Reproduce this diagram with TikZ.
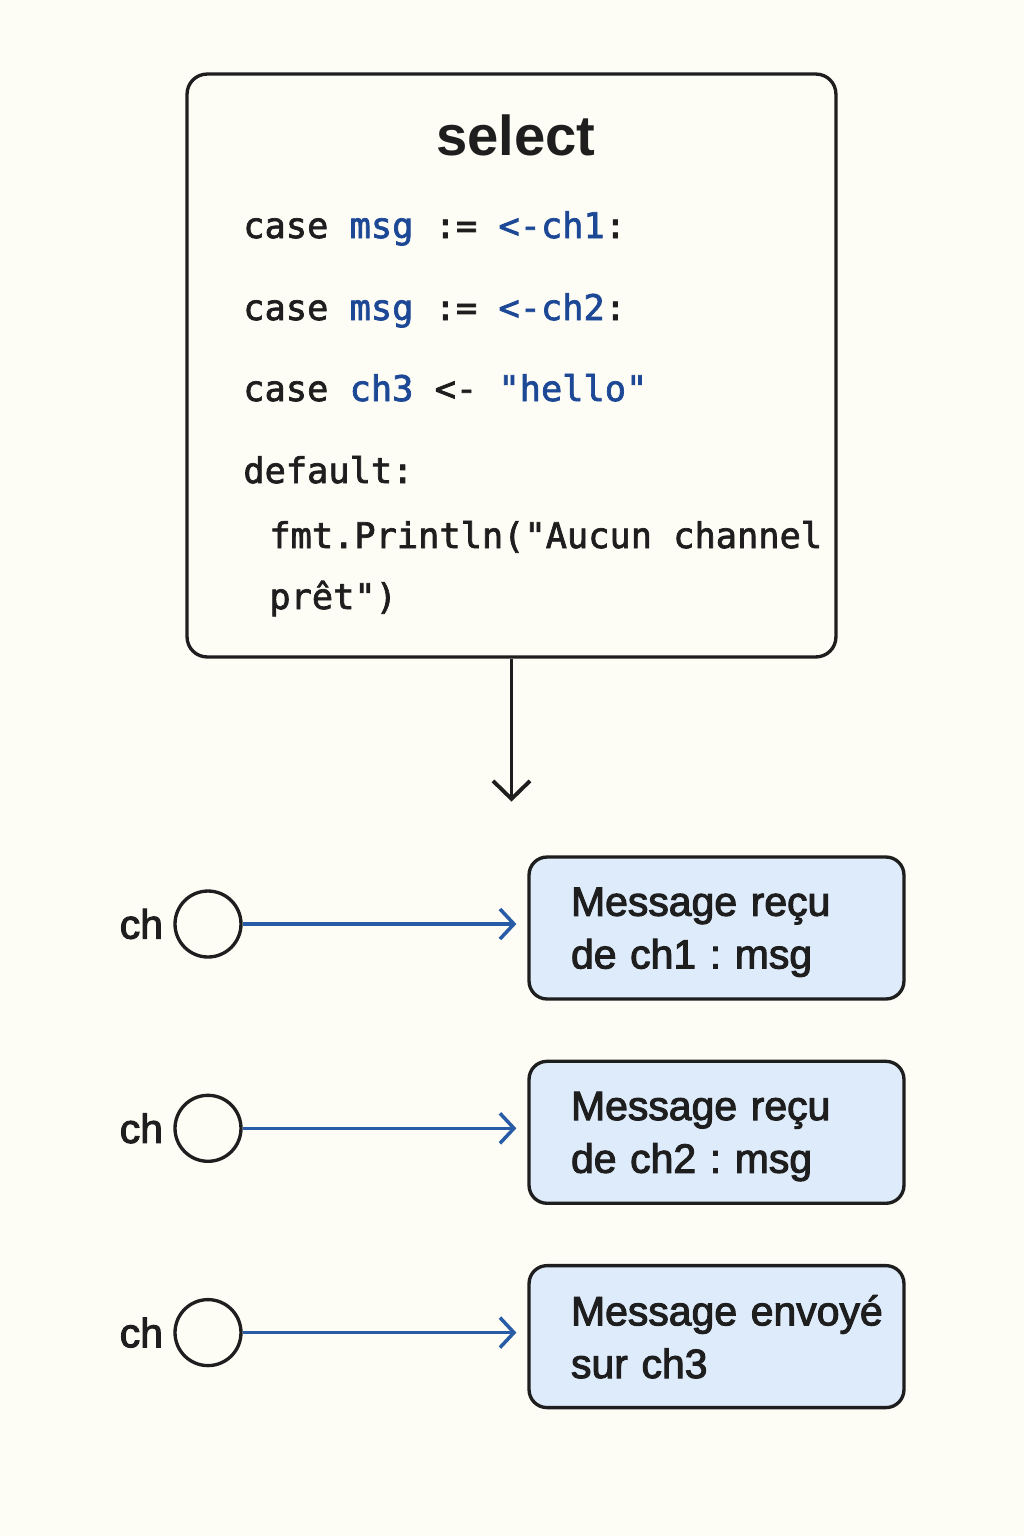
\documentclass[tikz,border=0pt]{standalone}
\usepackage{fontspec}
\setmainfont{Liberation Sans}
\newfontfamily\codefont[FakeBold=2]{DejaVu Sans Mono}
\newfontfamily\labelfont[FakeBold=2.5]{Liberation Sans}
\usetikzlibrary{arrows.meta,positioning}

\definecolor{paper}{RGB}{253,252,245}
\definecolor{ink}{RGB}{30,30,30}
\definecolor{codeblue}{RGB}{28,72,150}
\definecolor{flowblue}{RGB}{40,92,166}
\definecolor{msgfill}{RGB}{221,235,250}

\newcommand{\kw}[1]{\textcolor{codeblue}{#1}}

\begin{document}
\begin{tikzpicture}[
    x=0.02cm, y=-0.02cm,
    selbox/.style={draw=ink, line width=1.9pt, rounded corners=0.4cm, fill=paper, minimum width=12.98cm, minimum height=11.66cm},
    title/.style={font=\fontsize{32}{38}\selectfont\bfseries, text=ink, anchor=base, inner sep=0pt},
    code/.style={font=\fontsize{20.1}{25}\selectfont\codefont, text=ink, anchor=base west, inner sep=0pt},
    chan/.style={circle, draw=ink, line width=1.9pt, minimum size=1.32cm, inner sep=0pt},
    chname/.style={font=\fontsize{23.3}{27}\selectfont\labelfont, text=ink, inner sep=0pt},
    msgbox/.style={draw=ink, line width=1.9pt, rounded corners=0.36cm, fill=msgfill, minimum width=7.5cm, minimum height=2.84cm,
        text width=5.82cm, inner xsep=0.84cm, inner ysep=0pt, align=left, text depth=30pt,
        font=\fontsize{23.3}{30}\selectfont\labelfont\frenchspacing, text=ink},
    link/.style={-{Straight Barb[length=0.36cm, width=0.74cm, line width=2.2pt]}, line width=2.2pt, draw=ink},
    flow/.style={-{Straight Barb[length=0.28cm, width=0.6cm, line width=2pt]}, line width=2pt, draw=flowblue, shorten >=0.22cm}
]

% page
\fill[paper] (0,0) rectangle (1024,1536);

% select block
\node[selbox] (sel) at (511.5,365.5) {};
\node[title] (title) at (516,155) {select};
\node[code] (l1) at (243,238) {case \kw{msg} := \kw{<-ch1}:};
\node[code] (l2) at (243,320) {case \kw{msg} := \kw{<-ch2}:};
\node[code] (l3) at (243,401) {case \kw{ch3} <- \kw{"hello"}};
\node[code] (l4) at (243,483) {default:};
\node[code] (l5) at (269,548) {fmt.Println("Aucun channel};
\node[code] (l6) at (269,609) {prêt")};

\coordinate (out) at ([yshift=-2.86cm]sel.south);
\draw[link] (sel.south) -- (out);

% channels
\node[chan] (c1) at (208,924) {};
\node[chan, below=2.70cm of c1] (c2) {};
\node[chan, below=2.70cm of c2] (c3) {};
\node[chname, left=0.2cm of c1] (n1) {ch};
\node[chname, left=0.2cm of c2] (n2) {ch};
\node[chname, left=0.2cm of c3] (n3) {ch};

% results
\node[msgbox] (m1) at (716.5,928) {\mbox{Message reçu}\\\mbox{de ch1 : msg}};
\node[msgbox, below=1.18cm of m1] (m2) {\mbox{Message reçu}\\\mbox{de ch2 : msg}};
\node[msgbox, below=1.18cm of m2] (m3) {\mbox{Message envoyé}\\\mbox{sur ch3}};

\draw[flow] (c1.east) -- (c1.east -| m1.west);
\draw[flow] (c2.east) -- (c2.east -| m2.west);
\draw[flow] (c3.east) -- (c3.east -| m3.west);

\end{tikzpicture}
\end{document}
